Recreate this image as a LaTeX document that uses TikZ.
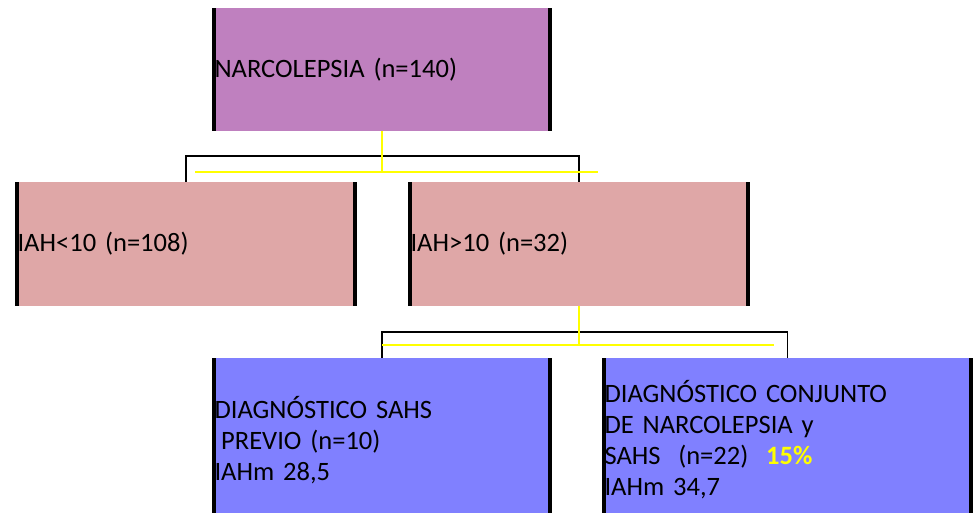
\documentclass[tikz,border=0pt]{standalone}
\usepackage{fontspec}
\setmainfont{Carlito}[WordSpace=0.85]
\usepackage{xcolor}
\usetikzlibrary{positioning,calc}
\definecolor{mauve}{HTML}{BF80BF}
\definecolor{rosebg}{HTML}{DFA7A7}
\definecolor{lilabg}{HTML}{8080FF}
\definecolor{hilite}{HTML}{FFFF00}
\tikzset{
  box/.style={inner xsep=0.05cm,inner ysep=0pt,align=left,
              font=\fontsize{15.1}{17.6}\selectfont,text=black},
  rootbox/.style={box,fill=mauve},
  midbox/.style={box,fill=rosebg},
  leafbox/.style={box,fill=lilabg},
  sidebar/.style={fill=black},
  bracket/.style={draw=black,line width=0.8pt},
  yelline/.style={draw=hilite,line width=1pt}
}

\begin{document}
\begin{tikzpicture}[x=0.02cm,y=-0.02cm]
    \useasboundingbox[fill=white] (0,0) rectangle (975,513);
    \clip (0,0) rectangle (975,513);
    \node[rootbox,text width=6.7cm,minimum height=2.46cm] (root) at (382,69.5)
      {NARCOLEPSIA (n=140)};
    \node[midbox,text width=6.74cm,minimum height=2.48cm] (low) at (186,244)
      {IAH<10 (n=108)};
    \node[midbox,text width=6.74cm,minimum height=2.48cm] (high) at (579,244)
      {IAH>10 (n=32)};
    \node[leafbox,text width=6.7cm,minimum height=3.28cm] (prev) at (382,440)
      {DIAGNÓSTICO SAHS\\\hspace{0.25em}PREVIO (n=10)\\IAHm 28,5};
    \node[leafbox,text width=7.32cm,minimum height=3.28cm] (conj) at (787.5,440)
      {DIAGNÓSTICO CONJUNTO\\DE NARCOLEPSIA y\\SAHS\ \ (n=22)\ \ \textcolor{hilite}{\textbf{15\%}}\\IAHm 34,7};

    % black side bars
    \foreach \n in {root,low,high,prev,conj} {
      \fill[sidebar] (\n.north west) rectangle ([xshift=0.09cm]\n.south west);
      \fill[sidebar] ([xshift=-0.09cm]\n.north east) rectangle (\n.south east);
    }

    % first split
    \coordinate (join1) at (382,156);
    \coordinate (yel1a) at (195,172);
    \coordinate (yel1b) at (598,172);
    \draw[bracket] (low.north) |- (join1) -| (high.north);
    \draw[yelline] (root.south) -- (root.south |- yel1a);
    \draw[yelline] (yel1a) -- (yel1b);

    % second split
    \coordinate (join2) at (579,332);
    \coordinate (yel2a) at (382,345);
    \coordinate (yel2b) at (774,345);
    \draw[bracket] (prev.north) |- (join2) -| (conj.north);
    \draw[yelline] (high.south) -- (high.south |- yel2a);
    \draw[yelline] (yel2a) -- (yel2b);
  \end{tikzpicture}
\end{document}
